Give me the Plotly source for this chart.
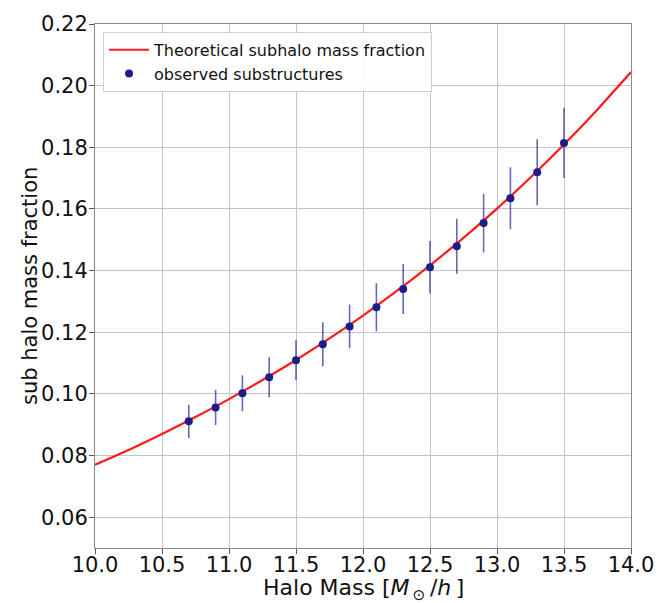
import plotly.graph_objects as go

# observed substructures
obs_mass = [10.7, 10.9, 11.1, 11.3, 11.5, 11.7, 11.9, 12.1, 12.3, 12.5, 12.7, 12.9, 13.1, 13.3, 13.5]
obs_frac = [0.0911, 0.0956, 0.1002, 0.1054, 0.1109, 0.1161, 0.1219, 0.1281, 0.1340, 0.1411, 0.1479, 0.1554, 0.1635, 0.1719, 0.1814]
obs_err = [0.0054, 0.0057, 0.0058, 0.0065, 0.0065, 0.0071, 0.0071, 0.0078, 0.0081, 0.0085, 0.0089, 0.0095, 0.0100, 0.0107, 0.0114]

# theoretical curve
th_mass = [10.0, 10.25, 10.5, 10.75, 11.0, 11.25, 11.5, 11.75, 12.0, 12.25, 12.5, 12.75, 13.0, 13.25, 13.5, 13.75, 14.0]
th_frac = [0.0770, 0.0818, 0.0870, 0.0925, 0.0983, 0.1045, 0.1110, 0.1180, 0.1254, 0.1333, 0.1417, 0.1506, 0.1601, 0.1702, 0.1809, 0.1923, 0.2044]

x_ticks = [10.0, 10.5, 11.0, 11.5, 12.0, 12.5, 13.0, 13.5, 14.0]
y_ticks = [0.06, 0.08, 0.10, 0.12, 0.14, 0.16, 0.18, 0.20, 0.22]

FONT = "DejaVu Sans"

fig = go.Figure()
fig.add_trace(go.Scatter(
    x=th_mass, y=th_frac, mode="lines", line=dict(color="#ff1a1a", width=2.2, shape="spline"),
    name="Theoretical subhalo mass fraction"))
fig.add_trace(go.Scatter(
    x=obs_mass, y=obs_frac, mode="markers",
    marker=dict(color="#1c1c8a", size=8),
    error_y=dict(type="data", array=obs_err, color="rgba(40,40,150,0.7)", thickness=1.6, width=0),
    name="observed substructures"))

axis_common = dict(
    showgrid=True, gridcolor="#c4c4c4", gridwidth=1,
    showline=True, linecolor="#8a8a8a", linewidth=1, mirror=True,
    ticks="outside", ticklen=5, tickcolor="#555555",
    tickfont=dict(family=FONT, size=21, color="#111111"),
    zeroline=False, automargin=False,
)

xtitle = "Halo Mass [<i>M</i><sub>\u2009⊙</sub>\u2009/<i>h</i>\u2009]"

fig.update_layout(
    width=659, height=603,
    margin=dict(l=95, r=28, t=24, b=55),
    paper_bgcolor="white", plot_bgcolor="white",
    font=dict(family=FONT, color="#111111"),
    xaxis=dict(range=[10.0, 14.0], tickvals=x_ticks, ticktext=[f"{v:.1f}" for v in x_ticks],
               ticklabelstandoff=-7, **axis_common),
    yaxis=dict(range=[0.05, 0.22], tickvals=y_ticks, ticktext=[f"{v:.2f}" for v in y_ticks],
               ticklabelstandoff=-3, **axis_common),
    legend=dict(x=0.015, y=0.985, xanchor="left", yanchor="top",
                bgcolor="rgba(255,255,255,0.9)", bordercolor="#d0d0d0", borderwidth=1,
                font=dict(family=FONT, size=16), tracegroupgap=0, itemwidth=40),
    showlegend=True,
    annotations=[
        dict(text=xtitle, xref="paper", yref="paper", x=0.5, y=0, xanchor="center", yanchor="top",
             yshift=-25, showarrow=False, font=dict(family=FONT, size=22, color="#111111")),
        dict(text="sub halo mass fraction", xref="paper", yref="paper", x=0, y=0.5,
             xanchor="center", yanchor="middle", xshift=-65, textangle=-90, showarrow=False,
             font=dict(family=FONT, size=21, color="#111111")),
    ],
)

fig.write_html("out.html")
